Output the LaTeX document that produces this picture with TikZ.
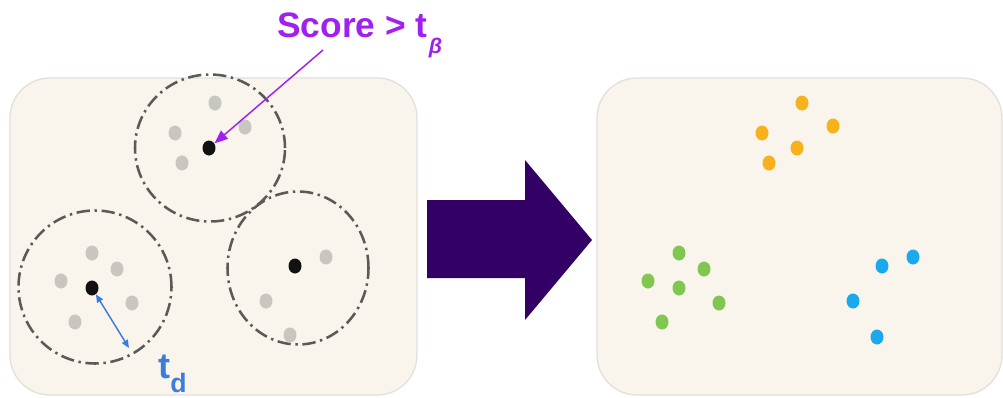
\documentclass[tikz,border=0pt]{standalone}
\usepackage{fontspec}
\setmainfont{Liberation Sans}
\usetikzlibrary{shapes.geometric,arrows.meta}
\definecolor{cream}{HTML}{F9F5EC}
\definecolor{panelborder}{HTML}{E4E0DA}
\definecolor{ringgray}{HTML}{5A5A58}
\definecolor{dotgray}{HTML}{C9C6BF}
\definecolor{dotblack}{HTML}{111111}
\definecolor{lblpurple}{HTML}{A020F0}
\definecolor{lblblue}{HTML}{3B7DDD}
\definecolor{bigarrow}{HTML}{330066}
\definecolor{orangedot}{HTML}{F7B21B}
\definecolor{greendot}{HTML}{80C650}
\definecolor{bluedot}{HTML}{19A9EC}
\begin{document}
\begin{tikzpicture}[x=0.75pt,y=-0.75pt,
  panel/.style={fill=cream,draw=panelborder,line width=1pt,rounded corners=30pt},
  ring/.style={ellipse,draw=ringgray,line width=1.9pt,dash pattern=on 10pt off 3.5pt on 1.8pt off 3.5pt,inner sep=0pt},
  dot/.style={ellipse,inner sep=0pt,minimum width=9.75pt,minimum height=11.25pt},
  gdot/.style={dot,fill=dotgray},
  kdot/.style={dot,fill=dotblack},
  odot/.style={dot,fill=orangedot},
  grdot/.style={dot,fill=greendot},
  bdot/.style={dot,fill=bluedot},
  lbl/.style={inner sep=0pt,anchor=base west,font=\bfseries}
]
\useasboundingbox[fill=white] (0,0) rectangle (1003,397);
% panels
\path[panel] (10,78) rectangle (417,395);
\path[panel] (597,78) rectangle (1002,395);
% rings
\node[ring,minimum width=112.5pt,minimum height=110.25pt] (c1) at (210,148) {};
\node[ring,minimum width=114.75pt,minimum height=114.75pt] (c2) at (95,287) {};
\node[ring,minimum width=105.75pt,minimum height=114.75pt] (c3) at (298,268) {};
% gray dots
\node[gdot] (g1) at (215,103) {};
\node[gdot] (g2) at (245,127) {};
\node[gdot] (g3) at (175,133) {};
\node[gdot] (g4) at (182,163) {};
\node[gdot] (g5) at (92,253) {};
\node[gdot] (g6) at (117,269) {};
\node[gdot] (g7) at (61,281) {};
\node[gdot] (g8) at (132,303) {};
\node[gdot] (g9) at (75,322) {};
\node[gdot] (g10) at (326,257) {};
\node[gdot] (g11) at (266,301) {};
\node[gdot] (g12) at (290,335) {};
% black dots
\node[kdot] (k1) at (209,148) {};
\node[kdot] (k2) at (92,288) {};
\node[kdot] (k3) at (295,266) {};
% coloured dots
\node[odot] (o1) at (802,103) {};
\node[odot] (o2) at (833,126) {};
\node[odot] (o3) at (762,133) {};
\node[odot] (o4) at (797,148) {};
\node[odot] (o5) at (769,163) {};
\node[grdot] (e1) at (679,253) {};
\node[grdot] (e2) at (704,269) {};
\node[grdot] (e3) at (648,281) {};
\node[grdot] (e4) at (679,288) {};
\node[grdot] (e5) at (719,303) {};
\node[grdot] (e6) at (662,322) {};
\node[bdot] (b1) at (882,266) {};
\node[bdot] (b2) at (913,257) {};
\node[bdot] (b3) at (853,301) {};
\node[bdot] (b4) at (877,337) {};
% big arrow
\fill[bigarrow] (427,200) -- (525,200) -- (525,160) -- (592,240) -- (525,320) -- (525,278) -- (427,278) -- cycle;
% labels
\node[lbl,text=lblpurple,font=\bfseries\fontsize{26.5}{26.5}\selectfont] (score) at (277,37)
  {Score > t\hspace{1pt}\raisebox{-12.5pt}{\fontsize{16}{16}\selectfont\itshape β}};
\node[lbl,text=lblblue,font=\bfseries\fontsize{27}{27}\selectfont] (td) at (158,378)
  {t\raisebox{-10.5pt}{\fontsize{20}{20}\selectfont d}};
% connectors
\coordinate (ps) at (323,50);
\draw[lblpurple,line width=1.1pt,-{Triangle[length=10pt,width=8pt]}] (ps) -- (k1);
\coordinate (tdend) at (129,348);
\draw[lblblue,line width=1.1pt,{Triangle[length=6pt,width=5pt]}-{Triangle[length=6pt,width=5pt]}] (k2) -- (tdend);
\end{tikzpicture}
\end{document}
